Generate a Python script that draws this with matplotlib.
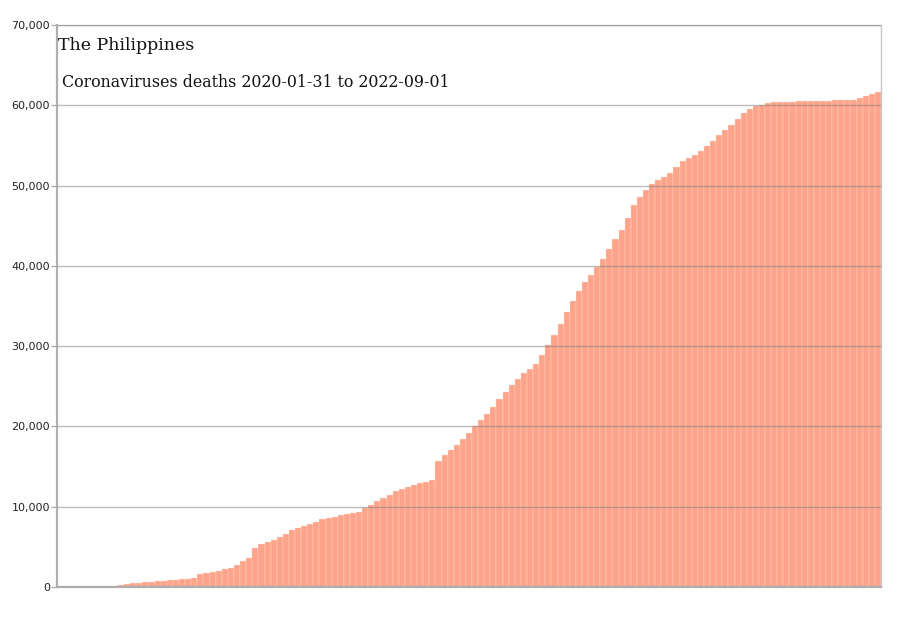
import numpy as np
import matplotlib
matplotlib.use("Agg")
import matplotlib.pyplot as plt
import matplotlib.ticker as mticker

# Cumulative deaths, one value per week (2020-01-31 -> 2022-09-01)
deaths = [
    0, 0, 0, 0, 0, 0, 0, 0, 30, 150,
    270, 390, 500, 560, 620, 670, 720, 770, 810, 890,
    970, 1050, 1150, 1560, 1700, 1850, 2000, 2200, 2400, 2800,
    3200, 3650, 4900, 5300, 5650, 5900, 6200, 6650, 7050, 7300,
    7600, 7900, 8150, 8430, 8600, 8760, 8910, 9040, 9160, 9400,
    9850, 10250, 10650, 11050, 11400, 11900, 12150, 12400, 12650, 12900,
    13100, 13300, 15700, 16500, 17100, 17650, 18400, 19200, 20000, 20800,
    21600, 22400, 23400, 24300, 25100, 25900, 26600, 27200, 27800, 28900,
    30200, 31400, 32800, 34200, 35600, 36900, 38000, 38900, 39800, 40900,
    42100, 43300, 44500, 46000, 47600, 48600, 49500, 50200, 50700, 51100,
    51600, 52300, 53000, 53400, 53800, 54250, 54900, 55600, 56300, 56900,
    57600, 58300, 59100, 59500, 59850, 60050, 60250, 60400, 60420, 60440,
    60460, 60480, 60500, 60520, 60540, 60550, 60570, 60600, 60630, 60660,
    60700, 60900, 61100, 61350, 61700,
]
y_ticks = [0, 10000, 20000, 30000, 40000, 50000, 60000, 70000]
title_1 = "The Philippines"
title_2 = "Coronaviruses deaths 2020-01-31 to 2022-09-01"

fig = plt.figure(figsize=(8.99, 6.22), dpi=100)
ax = fig.add_axes([57 / 899, (622 - 587) / 622, 824 / 899, 562 / 622])

x = np.arange(len(deaths))
ax.bar(x, deaths, width=1.0, color="#FDA48A", edgecolor="#FFE2D8",
       linewidth=0.25, zorder=2)

ax.set_xlim(-0.5, len(deaths) - 0.5)
ax.set_ylim(0, 70000)
ax.set_yticks(y_ticks)
ax.yaxis.set_major_formatter(mticker.FuncFormatter(lambda v, p: f"{int(v):,}"))
ax.set_xticks([])

ax.grid(axis="y", color="#7a7a7a", alpha=0.5, linewidth=1.0, zorder=3)
ax.set_axisbelow(False)

for side in ["top", "right"]:
    ax.spines[side].set_color("#c8c8c8")
    ax.spines[side].set_linewidth(1.0)
for side in ["left", "bottom"]:
    ax.spines[side].set_color("#b0b0b0")
    ax.spines[side].set_linewidth(1.6)

ax.tick_params(axis="y", length=4, width=1, color="#b0b0b0",
               labelsize=8, labelcolor="#222222", pad=1)

ax.text(0.001, 0.963, title_1, transform=ax.transAxes, fontsize=12.5,
        family="DejaVu Serif", color="#111111", va="center", ha="left")
ax.text(0.006, 0.897, title_2, transform=ax.transAxes, fontsize=11.4,
        family="DejaVu Serif", color="#111111", va="center", ha="left")

plt.savefig("out.png", dpi=100)
